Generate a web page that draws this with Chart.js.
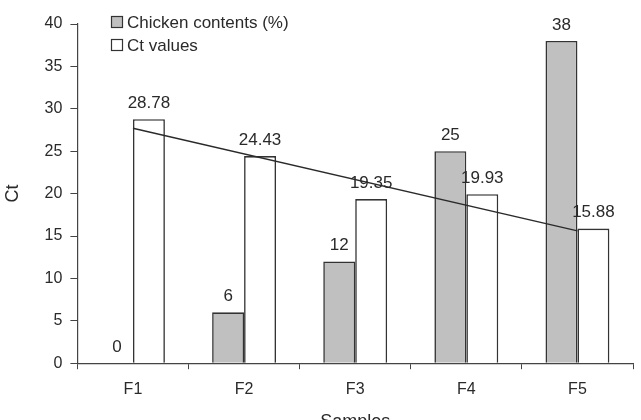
<!DOCTYPE html>
<html>
<head>
<meta charset="utf-8">
<script src="https://cdn.jsdelivr.net/npm/chart.js@4/dist/chart.umd.min.js"></script>
<style>
  html, body { margin: 0; padding: 0; background: #fff; }
  #wrap { width: 641px; height: 420px; overflow: hidden; }
</style>
</head>
<body>
<div id="wrap"><canvas id="chart" width="641" height="438"></canvas></div>
<script>
// DATA
const samples = ["F1", "F2", "F3", "F4", "F5"];
const chickenContents = [0, 6, 12, 25, 38];
const ctValues = [28.78, 24.43, 19.35, 19.93, 15.88];
const ctLabels = ["28.78", "24.43", "19.35", "19.93", "15.88"];
const trendLine = [27.7, null, null, null, 15.6];
const yTicks = [0, 5, 10, 15, 20, 25, 30, 35, 40];

const FONT = "'Liberation Sans', Arial, sans-serif";
const INK = "#2a2a2a";

// value labels above bars
const barLabels = {
  id: "barLabels",
  afterDatasetsDraw(chart) {
    const ctx = chart.ctx;
    ctx.save();
    ctx.font = "17px " + FONT;
    ctx.fillStyle = INK;
    ctx.textAlign = "center";
    ctx.textBaseline = "middle";
    chart.data.datasets.forEach((ds, i) => {
      if (ds.type === "line") return;
      const meta = chart.getDatasetMeta(i);
      meta.data.forEach((bar, j) => {
        const txt = ds.valueLabels ? ds.valueLabels[j] : String(ds.data[j]);
        ctx.fillText(txt, bar.x, bar.y - 16);
      });
    });
    ctx.restore();
  },
};

// two-row legend at top left
const stackedLegend = {
  id: "stackedLegend",
  afterDraw(chart) {
    const ctx = chart.ctx;
    const items = chart.data.datasets.filter((d) => d.type !== "line");
    ctx.save();
    ctx.font = "17px " + FONT;
    ctx.textBaseline = "middle";
    items.forEach((ds, i) => {
      const y = 22 + i * 23;
      ctx.fillStyle = ds.backgroundColor;
      ctx.strokeStyle = "#333";
      ctx.lineWidth = 1.2;
      ctx.fillRect(111.5, y - 5.5, 11, 11);
      ctx.strokeRect(111.5, y - 5.5, 11, 11);
      ctx.fillStyle = INK;
      ctx.fillText(ds.label, 127, y + 1);
    });
    ctx.restore();
  },
};

new Chart(document.getElementById("chart"), {
  type: "bar",
  data: {
    labels: samples,
    datasets: [
      {
        type: "line",
        label: "Trend",
        data: trendLine,
        borderColor: INK,
        borderWidth: 1.4,
        pointRadius: 0,
        spanGaps: true,
        order: 0,
      },
      {
        label: "Chicken contents (%)",
        data: chickenContents,
        backgroundColor: "#c0c0c0",
        borderColor: "#333",
        borderWidth: 1.6,
        order: 1,
      },
      {
        label: "Ct values",
        data: ctValues,
        valueLabels: ctLabels,
        backgroundColor: "#ffffff",
        borderColor: "#333",
        borderWidth: 1.6,
        order: 1,
      },
    ],
  },
  options: {
    responsive: false,
    animation: false,
    layout: { padding: { top: 24, right: 8, left: 2, bottom: 5 } },
    datasets: {
      bar: { barPercentage: 1, categoryPercentage: 0.575 },
    },
    plugins: {
      legend: { display: false },
      tooltip: { enabled: false },
    },
    scales: {
      x: {
        grid: { drawOnChartArea: false, drawTicks: true, tickLength: 6, color: "#444" },
        border: { color: "#444", width: 1.2 },
        ticks: { color: INK, font: { family: FONT, size: 16 }, padding: 11 },
        title: {
          display: true,
          text: "Samples",
          color: INK,
          font: { family: FONT, size: 18 },
          padding: { top: 1, bottom: 0 },
        },
      },
      y: {
        min: 0,
        max: 40,
        afterBuildTicks: (axis) => {
          axis.ticks = yTicks.map((v) => ({ value: v }));
        },
        grid: { drawOnChartArea: false, drawTicks: true, tickLength: 7, color: "#444" },
        border: { color: "#444", width: 1.2 },
        ticks: { color: INK, font: { family: FONT, size: 16 }, padding: 8 },
        title: {
          display: true,
          text: "Ct",
          color: INK,
          font: { family: FONT, size: 18 },
          padding: { top: 0, bottom: 13 },
        },
      },
    },
  },
  plugins: [barLabels, stackedLegend],
});
</script>
</body>
</html>
